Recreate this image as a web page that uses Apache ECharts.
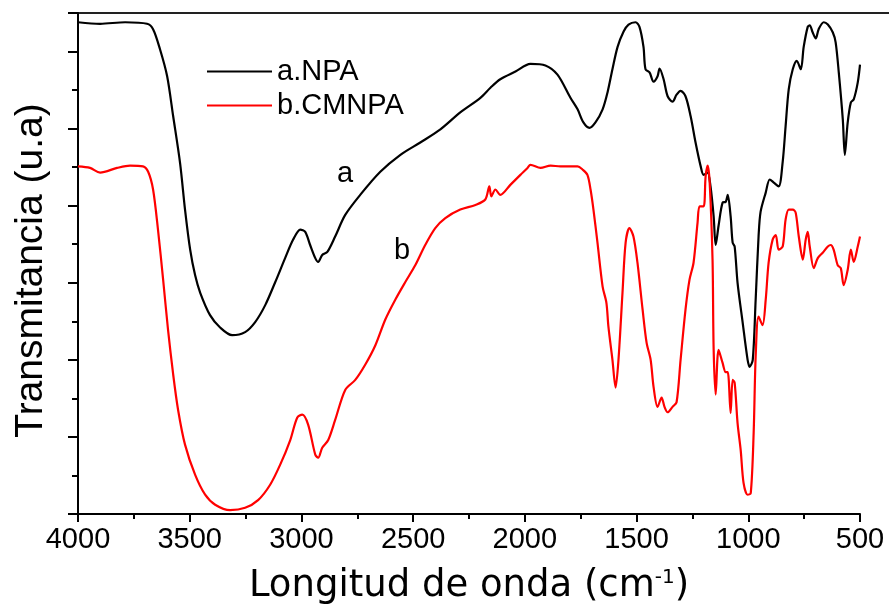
<!DOCTYPE html>
<html>
<head>
<meta charset="utf-8">
<script src="https://cdn.jsdelivr.net/npm/echarts@6/dist/echarts.min.js"></script>
<style>
html,body{margin:0;padding:0;background:#fff;}
#chart{width:889px;height:611px;}
</style>
</head>
<body>
<div id="chart"></div>
<script>
// Tick labels (x axis, cm^-1)
const xTicks = [4000, 3500, 3000, 2500, 2000, 1500, 1000, 500];

// a.NPA
const npaWn = [4000,3901,3789,3691,3664,3633,3601,3574,3543,3521,3498,3476,3453,3409,3364,3310,3252,3207,3162,3117,3073,3037,3005,2983,2961,2938,2925,2907,2884,2849,2804,2737,2647,2557,2468,2378,2289,2199,2154,2110,2042,1975,1908,1854,1796,1764,1738,1711,1684,1652,1630,1608,1585,1558,1536,1505,1487,1469,1460,1442,1424,1406,1397,1379,1361,1339,1321,1303,1281,1258,1236,1213,1200,1182,1169,1155,1146,1133,1115,1101,1092,1079,1070,1061,1048,1025,1003,994,980,967,954,945,922,904,886,864,846,833,819,801,783,765,752,734,725,712,698,685,662,644,622,609,595,577,568,555,541,528,510,500];
const npaT = [6.38,6.36,6.38,6.36,6.29,6.03,5.68,5.16,4.55,3.95,3.43,3.10,2.87,2.58,2.42,2.32,2.36,2.49,2.71,3.01,3.32,3.56,3.69,3.66,3.49,3.32,3.27,3.36,3.40,3.60,3.88,4.14,4.44,4.66,4.82,4.99,5.21,5.40,5.53,5.64,5.74,5.84,5.82,5.70,5.40,5.25,5.08,5.01,5.08,5.25,5.47,5.77,6.06,6.26,6.35,6.38,6.32,6.06,5.77,5.73,5.61,5.68,5.78,5.64,5.42,5.35,5.44,5.49,5.42,5.16,4.82,4.51,4.40,4.43,4.25,3.86,3.49,3.74,4.04,4.05,4.14,3.86,3.52,3.47,3.00,2.48,2.00,1.91,2.00,2.78,3.60,3.92,4.17,4.34,4.30,4.25,4.57,5.03,5.51,5.77,5.88,5.77,6.06,6.32,6.34,6.25,6.17,6.29,6.38,6.35,6.25,6.12,5.73,5.12,4.66,5.08,5.34,5.38,5.60,5.83];

// b.CMNPA
const cmWn = [4000,3946,3901,3825,3767,3709,3686,3664,3642,3619,3597,3574,3552,3521,3476,3431,3386,3319,3252,3194,3140,3095,3050,3019,2996,2970,2938,2925,2907,2880,2849,2804,2759,2714,2669,2625,2580,2535,2490,2446,2401,2356,2289,2221,2177,2159,2150,2132,2110,2065,2020,1988,1975,1930,1885,1841,1796,1764,1742,1720,1706,1693,1675,1652,1635,1626,1608,1594,1581,1563,1549,1532,1514,1496,1473,1455,1437,1424,1406,1388,1375,1361,1339,1321,1303,1281,1263,1245,1227,1218,1200,1191,1182,1173,1160,1155,1146,1133,1115,1101,1092,1079,1070,1061,1048,1034,1021,1003,989,976,967,954,936,922,909,891,877,864,846,833,819,801,788,774,756,743,734,725,707,689,667,644,631,618,600,586,573,555,541,528,510,500];
const cmT = [4.51,4.49,4.43,4.49,4.52,4.51,4.44,4.21,3.69,3.04,2.39,1.81,1.35,0.90,0.51,0.25,0.12,0.05,0.08,0.18,0.38,0.64,0.96,1.25,1.29,1.16,0.77,0.73,0.86,0.96,1.22,1.61,1.74,1.94,2.19,2.52,2.78,3.01,3.23,3.49,3.71,3.84,3.95,4.01,4.08,4.25,4.12,4.21,4.14,4.27,4.40,4.49,4.53,4.49,4.52,4.51,4.51,4.51,4.47,4.40,4.21,3.95,3.52,2.95,2.74,2.43,2.00,1.64,2.00,2.87,3.52,3.71,3.60,3.26,2.65,2.22,2.00,1.65,1.39,1.51,1.39,1.32,1.39,1.45,2.00,2.65,3.04,3.26,3.78,3.99,3.99,4.38,4.52,4.31,3.30,2.13,1.55,2.13,1.96,1.84,1.84,1.31,1.74,1.70,1.18,0.83,0.40,0.25,0.27,1.05,2.04,2.56,2.45,2.78,3.26,3.56,3.62,3.43,3.47,3.82,3.95,3.95,3.91,3.60,3.30,3.56,3.66,3.47,3.19,3.32,3.39,3.47,3.49,3.43,3.23,3.19,2.97,3.17,3.43,3.27,3.47,3.60];

const seriesNames = ['a.NPA', 'b.CMNPA'];
const curveLabels = ['a', 'b'];

function pairs(xs, ys) { return xs.map((x, i) => [x, ys[i]]); }

const chart = echarts.init(document.getElementById('chart'), null, {renderer: 'canvas'});
const sans = 'Liberation Sans, Arial, sans-serif';
const verd = 'DejaVu Sans';
const axisLine = {show: true, lineStyle: {color: '#000', width: 2}};

chart.setOption({
  animation: false,
  backgroundColor: '#fff',
  grid: {left: 78, right: 29, top: 13, bottom: 97, containLabel: false},
  legend: {
    data: seriesNames,
    orient: 'vertical',
    left: 207,
    top: 57,
    padding: 0,
    icon: 'rect',
    itemWidth: 65,
    itemHeight: 2,
    itemGap: 5,
    textStyle: {fontFamily: sans, fontSize: 29, color: '#000', lineHeight: 28}
  },
  xAxis: {
    type: 'value',
    inverse: true,
    min: 500,
    max: 4000,
    interval: 500,
    axisLine: axisLine,
    axisTick: {show: true, length: 8, lineStyle: {color: '#000', width: 2}},
    minorTick: {show: true, splitNumber: 2, length: 5, lineStyle: {color: '#000', width: 2}},
    splitLine: {show: false},
    axisLabel: {
      show: true, fontFamily: sans, fontSize: 29, color: '#000', margin: 11,
      showMinLabel: true, showMaxLabel: true,
      formatter: function (v) { return xTicks.indexOf(v) >= 0 ? String(v) : ''; }
    },
    name: '{a|Longitud de onda (cm}{s|-1}{a|)}',
    nameLocation: 'middle',
    nameGap: 54,
    nameTextStyle: {
      rich: {
        a: {fontFamily: verd, fontSize: 37, color: '#000'},
        s: {fontFamily: verd, fontSize: 20, color: '#000', verticalAlign: 'top'}
      }
    }
  },
  yAxis: {
    type: 'value',
    min: 0,
    max: 6.5,
    interval: 1,
    axisLine: axisLine,
    axisTick: {show: true, length: 10, lineStyle: {color: '#000', width: 2}},
    minorTick: {show: true, splitNumber: 2, length: 6, lineStyle: {color: '#000', width: 2}},
    splitLine: {show: false},
    axisLabel: {show: false},
    name: 'Transmitancia (u.a)',
    nameLocation: 'middle',
    nameRotate: 90,
    nameGap: 27,
    nameTextStyle: {fontFamily: sans, fontSize: 39, color: '#000', padding: [0, 14, 0, 0]}
  },
  graphic: [
    {type: 'line', shape: {x1: 72, y1: 13, x2: 889, y2: 13}, style: {stroke: '#222', lineWidth: 2}, silent: true},
    {type: 'text', left: 337, top: 159, style: {text: curveLabels[0], fontFamily: sans, fontSize: 29, fill: '#000'}},
    {type: 'text', left: 394, top: 236, style: {text: curveLabels[1], fontFamily: sans, fontSize: 29, fill: '#000'}}
  ],
  series: [
    {
      name: seriesNames[0], type: 'line', data: pairs(npaWn, npaT),
      showSymbol: false, symbol: 'none', smooth: 0.3,
      lineStyle: {color: '#000', width: 2.2}, itemStyle: {color: '#000'}
    },
    {
      name: seriesNames[1], type: 'line', data: pairs(cmWn, cmT),
      showSymbol: false, symbol: 'none', smooth: 0.3,
      lineStyle: {color: '#ff0000', width: 2.2}, itemStyle: {color: '#ff0000'}
    }
  ]
});
</script>
</body>
</html>
